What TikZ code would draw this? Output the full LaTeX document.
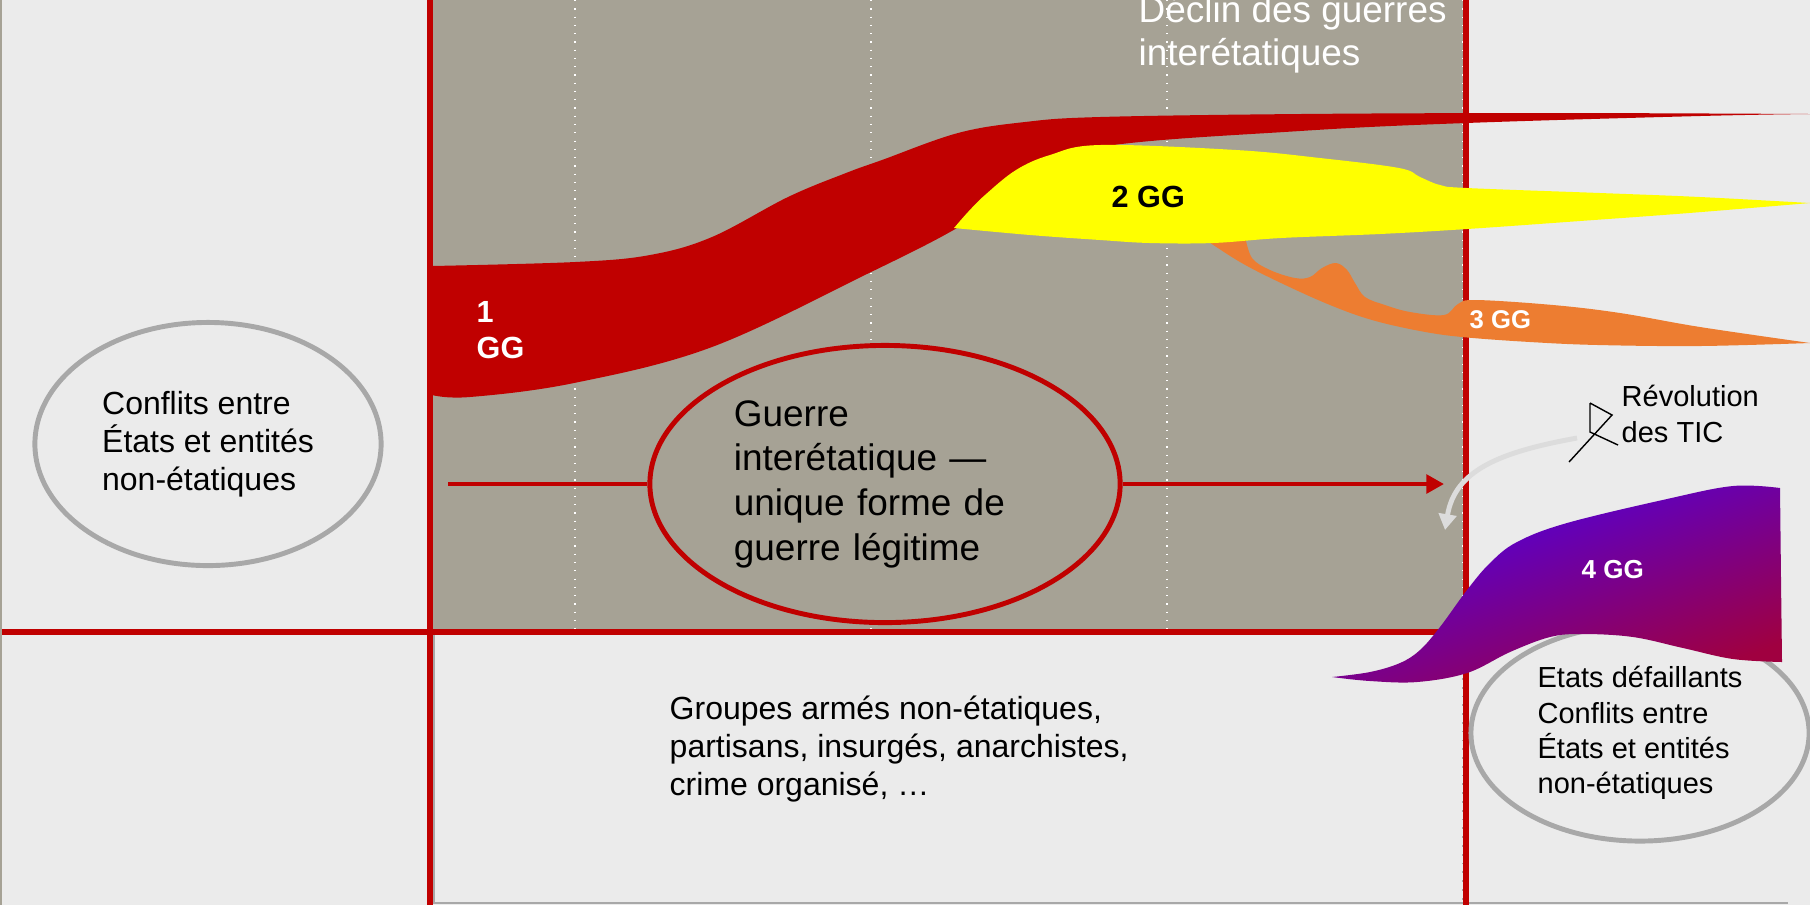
\documentclass[tikz,border=0pt]{standalone}
\usepackage{fontspec}
\setmainfont{Liberation Sans}
\usepackage{tikz}
\usetikzlibrary{arrows.meta}
\usetikzlibrary{shapes.geometric}
\newcommand{\pxsize}[2]{\fontsize{#1}{#2}\selectfont}

\definecolor{slidebg}{HTML}{EBEBEB}
\definecolor{boxgray}{HTML}{A6A295}
\definecolor{warred}{HTML}{C00000}
\definecolor{ggorange}{HTML}{ED7D31}
\definecolor{ggyellow}{HTML}{FFFF00}
\definecolor{ggviolet}{HTML}{4800EC}
\definecolor{ggcrimson}{HTML}{A00040}
\definecolor{rimgray}{HTML}{A8A8A8}
\definecolor{ticgray}{HTML}{DCDCDC}

\begin{document}
\begin{tikzpicture}[x=0.01cm, y=-0.01cm,
    redrule/.style={warred, line width=1.6pt},
    label-text/.style={inner sep=0pt, anchor=base west, align=left},
    ring/.style={ellipse, line width=1.4pt, inner sep=0pt, align=left},
    gg-label/.style={inner sep=0pt, anchor=base west, align=left,
      font=\bfseries\pxsize{8.7pt}{10.2pt}}]

  \useasboundingbox (0,0) rectangle (1810,905);
  \fill[slidebg] (0,0) rectangle (1810,905);
  \fill[boxgray] (432,0) rectangle (1466,632);
  \fill[boxgray] (0,0) rectangle (2,905);

  % column lines
  \foreach \x in {575,871,1167,1463}
    \draw[white, dotted, line width=0.35pt] (\x,0) -- (\x,630);
  \draw[rimgray, line width=0.6pt] (434,634) -- (434,903) -- (1788,903);
  \draw[rimgray, dotted, line width=0.5pt] (1463,634) -- (1463,903);

  % axes
  \draw[redrule] (430,0) -- (430,905);
  \draw[redrule] (1466,0) -- (1466,905);
  \draw[redrule] (2,632) -- (1466,632);

  % 1 GG
  \fill[warred] plot[smooth, tension=0.6] coordinates {(432,266) (575,262) (650,255) (712,237)
      (788,197) (846,173) (882,160) (958,133) (1025,122) (1100,117) (1300,114) (1550,113) (1810,114)}
    -- plot[smooth, tension=0.6] coordinates {(1810,114) (1700,116) (1466,123) (1300,131)
      (1100,147) (1020,178) (985,208) (950,232) (869,273) (712,347) (574,383) (470,397) (432,395)}
    -- cycle;

  % 3 GG
  \fill[ggorange] plot[smooth, tension=0.6] coordinates {(1200,236) (1240,262) (1281,283)
      (1330,305) (1372,320) (1420,331) (1462,337) (1530,342) (1598,345) (1700,346) (1810,343)}
    -- plot[smooth, tension=0.6] coordinates {(1810,343) (1700,327) (1620,313) (1553,305)
      (1476,300) (1458,304) (1444,315) (1410,312) (1385,305) (1365,297) (1355,283) (1347,270)
      (1336,263) (1322,268) (1310,277) (1295,278) (1270,270) (1252,258) (1245,236)}
    -- cycle;

  % 2 GG
  \fill[ggyellow] plot[smooth, tension=0.6] coordinates {(954,228) (968,212) (985,195) (1016,170)
      (1050,155) (1100,145) (1236,150) (1320,158) (1399,168) (1420,177) (1440,185) (1467,188)
      (1600,193) (1700,197) (1810,203)}
    -- plot[smooth, tension=0.6] coordinates {(1810,203) (1689,213) (1580,221) (1467,229)
      (1380,234) (1281,238) (1213,243) (1150,243) (1100,240) (1030,235) (954,228)}
    -- cycle;

  \node[ring, draw=rimgray, fill=slidebg, minimum width=3.46cm, minimum height=2.43cm,
    font=\pxsize{9.1pt}{10.8pt}] (left-ring) at (208,444)
    {Conflits entre\\États et entités\\non-étatiques};

  \node[ring, draw=warred, fill=boxgray, text width=3.02cm, minimum width=4.70cm,
    minimum height=2.77cm, font=\pxsize{10.5pt}{12.7pt}] (war-ring) at (885,484)
    {Guerre\\interétatique —\\unique forme de\\guerre légitime};

  \coordinate (arrow-start) at (448,484);
  \coordinate (arrow-end) at (1444,484);
  \draw[warred, line width=1.4pt] (arrow-start) -- (war-ring.west);
  \draw[warred, line width=1.4pt, -{Triangle[length=5pt, width=5.2pt]}] (war-ring.east) -- (arrow-end);

  \node[ring, draw=rimgray, fill=slidebg, minimum width=3.38cm, minimum height=2.16cm,
    font=\pxsize{8.25pt}{10pt}] (right-ring) at (1640,733)
    {Etats défaillants\\Conflits entre\\États et entités\\non-étatiques};

  % 4 GG
  \shade[top color=ggviolet, bottom color=ggcrimson, shading angle=20]
    plot[smooth, tension=0.6] coordinates {(1332,677) (1370,672) (1400,663) (1420,650) (1440,627)
      (1467,590) (1490,563) (1517,542) (1567,523) (1667,499) (1733,486) (1780,488)}
    -- plot[smooth] coordinates {(1780,488) (1781,580) (1782,662)}
    -- plot[smooth, tension=0.6] coordinates {(1782,662) (1733,659) (1683,648) (1633,637)
      (1583,634) (1550,637) (1510,652) (1467,673) (1417,682) (1370,681) (1332,677)}
    -- cycle;

  % base of a multi-line node = its last line
  \node[label-text, text=white, font=\pxsize{10.5pt}{12.2pt}] (decline) at (1138,65)
    {Déclin des guerres\\interétatiques};
  \node[label-text, font=\pxsize{9.1pt}{10.8pt}] (armed-groups) at (669,795)
    {Groupes armés non-étatiques,\\partisans, insurgés, anarchistes,\\crime organisé, …};
  \node[gg-label, text=white] (gg-one) at (476,358) {1\\GG};
  \node[gg-label] (gg-two) at (1111,207) {2 GG};
  \node[gg-label, text=white, font=\bfseries\pxsize{7.3pt}{8.8pt}] (gg-three) at (1469,328) {3 GG};
  \node[gg-label, text=white, font=\bfseries\pxsize{7.4pt}{8.8pt}] (gg-four) at (1581,578) {4 GG};
  \node[label-text, font=\pxsize{8.25pt}{10pt}] (ict) at (1621,442) {Révolution\\des TIC};

  % pin
  \draw[line width=0.4pt] (1590,403) -- (1612,415) -- (1569,462)
    (1590,403) -- (1590,432) -- (1618,445);

  \coordinate (ict-tail) at (1577,438);
  \coordinate (ict-head) at (1445,530);
  \draw[ticgray, line width=1.4pt, -{Triangle[length=4.5pt, width=5pt]}]
    (ict-tail) .. controls (1500,452) and (1455,470) .. (ict-head);
\end{tikzpicture}
\end{document}
